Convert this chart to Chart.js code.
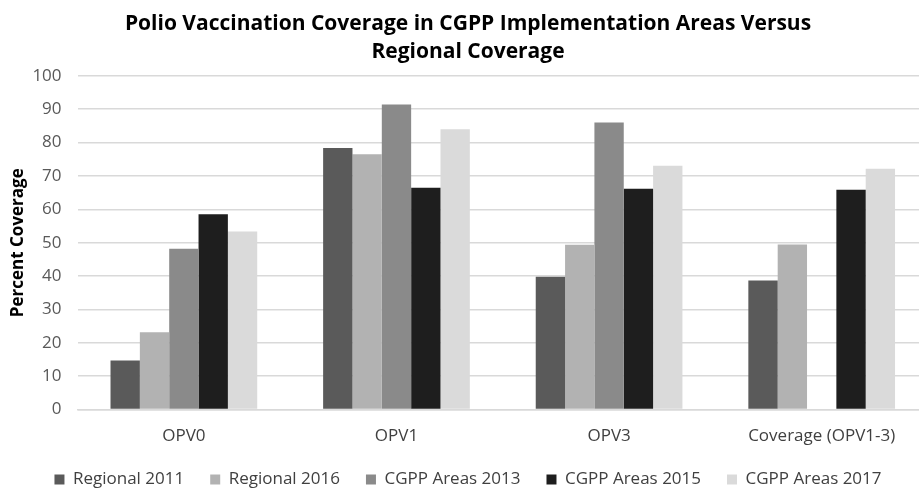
<!DOCTYPE html>
<html>
<head>
<meta charset="utf-8">
<script src="https://cdn.jsdelivr.net/npm/chart.js@4.4.1/dist/chart.umd.min.js"></script>
<style>
  html, body { margin: 0; padding: 0; background: #ffffff; overflow: hidden; }
  #wrap { width: 928px; height: 489px; }
</style>
</head>
<body>
<div id="wrap"><canvas id="c"></canvas></div>
<script>
const categories = ["OPV0", "OPV1", "OPV3", "Coverage (OPV1-3)"];
const seriesNames = ["Regional 2011", "Regional 2016", "CGPP Areas 2013", "CGPP Areas 2015", "CGPP Areas 2017"];
const regional2011 = [14.7, 78.4, 39.8, 38.7];
const regional2016 = [23.2, 76.5, 49.4, 49.5];
const cgpp2013 = [48.2, 91.4, 86.0, null];
const cgpp2015 = [58.5, 66.5, 66.2, 65.9];
const cgpp2017 = [53.4, 84.0, 73.1, 72.2];
const yTicks = [0, 10, 20, 30, 40, 50, 60, 70, 80, 90, 100];
const titleLines = ["Polio Vaccination Coverage in CGPP Implementation Areas Versus", "Regional Coverage"];
const yTitle = "Percent Coverage";

const colors = ["#5a5a5a", "#b2b2b2", "#8a8a8a", "#1e1e1e", "#dadada"];
const allSeries = [regional2011, regional2016, cgpp2013, cgpp2015, cgpp2017];

const FONT = "'Open Sans', 'Liberation Sans', sans-serif";
const LEGEND_TRIM = 9;

// Tighten the gap above the legend without changing its horizontal item spacing
const legendTrim = {
  id: 'legendTrim',
  afterInit(chart) {
    const lg = chart.legend;
    if (!lg) return;
    const fit = lg.fit.bind(lg);
    lg.fit = function () { fit(); this.height -= LEGEND_TRIM; };
    lg.draw = function () {
      if (!this.options.display) return;
      const ctx = this.ctx;
      ctx.save();
      ctx.translate(0, -LEGEND_TRIM);
      this._draw();
      ctx.restore();
    };
  }
};

new Chart(document.getElementById('c'), {
  type: 'bar',
  data: {
    labels: categories,
    datasets: allSeries.map((d, i) => ({
      label: seriesNames[i],
      data: d,
      backgroundColor: colors[i],
      borderWidth: 0,
      categoryPercentage: 0.69,
      barPercentage: 1.0
    }))
  },
  plugins: [legendTrim],
  options: {
    responsive: true,
    maintainAspectRatio: false,
    animation: false,
    layout: { padding: { left: 8, right: 0, top: 10, bottom: -9 } },
    plugins: {
      title: {
        display: true,
        text: titleLines,
        color: '#000000',
        font: { family: FONT, size: 21, weight: 'bold', lineHeight: 1.33 },
        padding: { top: 0, bottom: 10 }
      },
      legend: {
        position: 'bottom',
        labels: {
          color: '#404040',
          font: { family: FONT, size: 17 },
          boxWidth: 10,
          boxHeight: 10,
          padding: 26
        }
      },
      tooltip: { enabled: false }
    },
    scales: {
      x: {
        grid: { display: false },
        border: { display: true, color: '#d9d9d9', width: 1.5 },
        ticks: { color: '#404040', font: { family: FONT, size: 17 }, padding: 8 }
      },
      y: {
        min: 0,
        max: 100,
        afterBuildTicks: (axis) => { axis.ticks = yTicks.map(v => ({ value: v })); },
        afterFit: (scale) => { scale.width -= 12; },
        grid: { color: '#d9d9d9', lineWidth: 1.5, drawTicks: false },
        border: { display: false },
        ticks: { color: '#595959', font: { family: FONT, size: 17 }, padding: 16 },
        title: {
          display: true,
          text: yTitle,
          color: '#000000',
          font: { family: FONT, size: 17, weight: 'bold' },
          padding: { top: 0, bottom: 0 }
        }
      }
    }
  }
});
</script>
</body>
</html>
